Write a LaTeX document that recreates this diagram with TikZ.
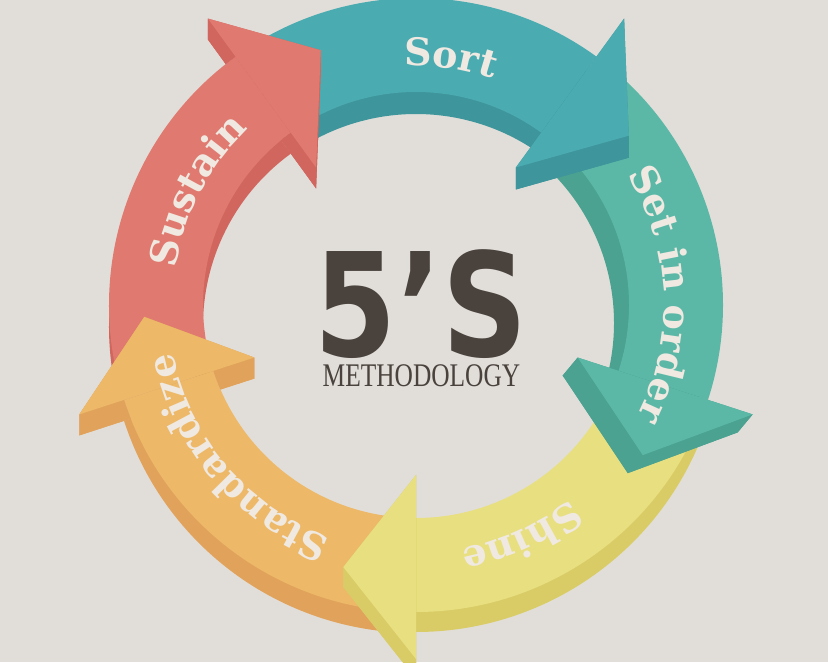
\documentclass[tikz,border=0pt]{standalone}
\usepackage{fontspec}
\usepackage{graphicx}
\usetikzlibrary{decorations.text}
\newfontfamily\labelfont{DejaVu Serif}
\newfontfamily\numfont{DejaVu Sans}
\newfontfamily\methfont{Liberation Serif}
\definecolor{bgC}{HTML}{E1DED9}
\definecolor{sortF}{HTML}{4AABB1}
\definecolor{sortS}{HTML}{3E959B}
\definecolor{setF}{HTML}{5CB8A6}
\definecolor{setS}{HTML}{4BA291}
\definecolor{shineF}{HTML}{E8DF80}
\definecolor{shineS}{HTML}{D9CC67}
\definecolor{stdF}{HTML}{EDB867}
\definecolor{stdS}{HTML}{E1A35C}
\definecolor{susF}{HTML}{E07A70}
\definecolor{susS}{HTML}{D1665E}
\definecolor{labelC}{HTML}{EFE9E1}
\definecolor{darkC}{HTML}{4A423C}
% ring shaft from tail angle #1 to head base angle #2 (clockwise)
\newcommand\shaftp[2]{(#1:307pt) arc[start angle=#1, end angle=#2, radius=307pt] -- (#2:213pt) arc[start angle=#2, end angle=#1, radius=213pt] -- cycle}
% arrow head with radial base at angle #1
\newcommand\headp[1]{(#1:354pt) -- ({#1-15.5}:272pt) -- (#1:170pt) -- cycle}
% extruded side of a head: #1 base angle, #2 offset x, #3 offset y, #4 colour
\newcommand\headside[4]{%
  \pgfmathsetmacro\hsTip{#1-15.5}%
  \fill[#4] (#1:354pt) -- (\hsTip:272pt) -- ([shift={(#2,#3)}]\hsTip:272pt) -- ([shift={(#2,#3)}]#1:354pt) -- cycle;
  \fill[#4] (\hsTip:272pt) -- (#1:170pt) -- ([shift={(#2,#3)}]#1:170pt) -- ([shift={(#2,#3)}]\hsTip:272pt) -- cycle;
  \fill[#4] (#1:170pt) -- (#1:354pt) -- ([shift={(#2,#3)}]#1:354pt) -- ([shift={(#2,#3)}]#1:170pt) -- cycle;
  \fill[#4, shift={(#2,#3)}] \headp{#1};}
\begin{document}
\begin{tikzpicture}[x=1pt,y=1pt,
  lbl/.style={decorate, decoration={text along path, text align=center, text color=labelC,
     text={|\labelfont\bfseries\fontsize{38}{46}\selectfont|#1}}}]
\useasboundingbox (0,0) rectangle (828,662);
\clip (0,0) rectangle (828,662);
\fill[bgC] (0,0) rectangle (828,662);
\begin{scope}[shift={(416,357)}]
  % shaft sides
  \fill[sortS, shift={(0,-22)}] \shaftp{121}{54};
  \fill[setS, shift={(-15,-18)}] \shaftp{49}{-18};
  \fill[shineS, shift={(0,-20)}] \shaftp{-23}{-90};
  \fill[stdS, shift={(0,-21)}] \shaftp{-95}{-162};
  \fill[susS, shift={(0,-21)}] \shaftp{-167}{-234};
  % shaft faces
  \fill[sortF] \shaftp{121}{54};
  \fill[setF] \shaftp{49}{-18};
  \fill[shineF] \shaftp{-23}{-90};
  \fill[stdF] \shaftp{-95}{-162};
  \fill[susF] \shaftp{-167}{-234};
  % head sides (kept off their own shaft)
  \begin{scope}[even odd rule]\clip (-600,-600) rectangle (600,600) \shaftp{121}{54};
    \headside{54}{0}{-22}{sortS}\end{scope}
  \begin{scope}[even odd rule]\clip (-600,-600) rectangle (600,600) \shaftp{49}{-18};
    \headside{-18}{-15}{-18}{setS}\end{scope}
  \begin{scope}[even odd rule]\clip (-600,-600) rectangle (600,600) \shaftp{-23}{-90};
    \headside{-90}{0}{-20}{shineS}\end{scope}
  \begin{scope}[even odd rule]\clip (-600,-600) rectangle (600,600) \shaftp{-95}{-162};
    \headside{-162}{0}{-21}{stdS}\end{scope}
  \begin{scope}[even odd rule]\clip (-600,-600) rectangle (600,600) \shaftp{-167}{-234};
    \headside{-234}{0}{-21}{susS}\end{scope}
  % head faces
  \fill[sortF] \headp{54};
  \fill[setF] \headp{-18};
  \fill[shineF] \headp{-90};
  \fill[stdF] \headp{-162};
  \fill[susF] \headp{-234};
  % labels along the ring
  \path[lbl=Sort] (122:239pt) arc[start angle=122, end angle=42, radius=239pt];
  \path[lbl=Set in order] (50:248pt) arc[start angle=50, end angle=-45, radius=248pt];
  \path[lbl=Shine] (-25:248pt) arc[start angle=-25, end angle=-106, radius=248pt];
  \path[lbl=Standardize] (268:248pt) arc[start angle=268, end angle=173, radius=248pt];
  \path[lbl=Sustain] (195:243pt) arc[start angle=195, end angle=110, radius=243pt];
\end{scope}
\node[text=darkC, anchor=base, inner sep=0pt, text depth=0pt] (five) at (421,305)
  {\scalebox{0.82}[1]{\numfont\bfseries\fontsize{144}{144}\selectfont 5’S}};
\node[text=darkC, anchor=base, inner sep=0pt] (meth) at (421.5,275)
  {\scalebox{0.77}[1]{\methfont\fontsize{33}{33}\selectfont METHODOLOGY}};
\end{tikzpicture}
\end{document}
